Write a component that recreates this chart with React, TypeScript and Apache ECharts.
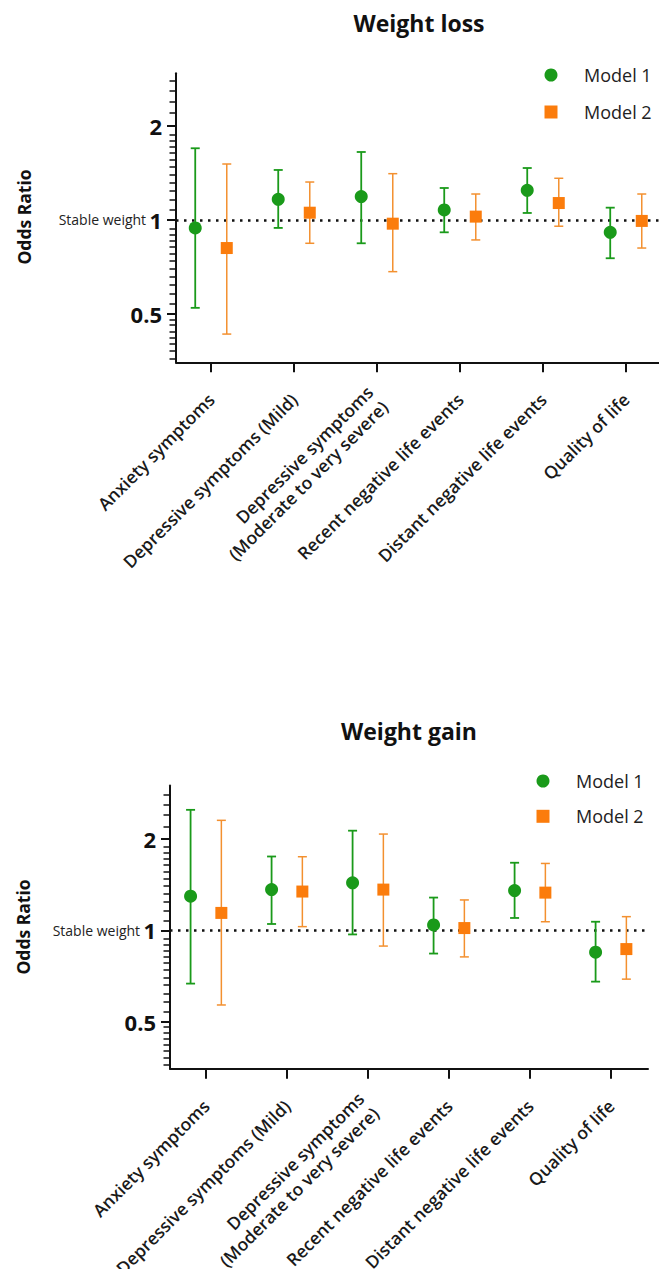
import React, { useEffect, useRef } from 'react';
import * as echarts from 'echarts';

const categories = [
  'Anxiety symptoms',
  'Depressive symptoms (Mild)',
  'Depressive symptoms\n(Moderate to very severe)',
  'Recent negative life events',
  'Distant negative life events',
  'Quality of life',
];

// Weight loss panel
const lossM1 = [0.943, 1.165, 1.188, 1.077, 1.245, 0.913];
const lossM1Low = [0.523, 0.943, 0.842, 0.913, 1.053, 0.754];
const lossM1High = [1.697, 1.446, 1.651, 1.266, 1.467, 1.095];
const lossM2 = [0.813, 1.055, 0.973, 1.025, 1.133, 0.993];
const lossM2Low = [0.431, 0.842, 0.683, 0.863, 0.955, 0.813];
const lossM2High = [1.511, 1.323, 1.407, 1.211, 1.36, 1.211];

// Weight gain panel
const gainM1 = [1.296, 1.363, 1.435, 1.042, 1.353, 0.848];
const gainM1Low = [0.668, 1.05, 0.97, 0.839, 1.099, 0.678];
const gainM1High = [2.496, 1.752, 2.131, 1.283, 1.671, 1.068];
const gainM2 = [1.142, 1.343, 1.363, 1.018, 1.332, 0.868];
const gainM2Low = [0.568, 1.029, 0.888, 0.818, 1.068, 0.691];
const gainM2High = [2.305, 1.749, 2.077, 1.26, 1.662, 1.11];

const yTickValues = [0.5, 1, 2];
const yTickLabels = ['0.5', '1', '2'];
const yMinorTicks = [
  0.36, 0.38, 0.4, 0.42, 0.44, 0.46, 0.48,
  0.54, 0.58, 0.62, 0.66, 0.7, 0.74, 0.78, 0.82, 0.86, 0.9, 0.94,
  1.08, 1.16, 1.24, 1.32, 1.4, 1.48, 1.56, 1.64, 1.72, 1.8, 1.88,
  2.2, 2.4, 2.6, 2.8,
];
const catIdx = categories.map((_, i) => i);

const FONT = 'Open Sans';
const GREEN = '#1a9a1a';
const ORANGE = '#fb7c0c';
const ORANGE_LINE = '#f3902f';
const AXIS = '#111';
const OFFSET = 0.19;
const Y_MIN = 0.35;

function errRender(color: string, width: number) {
  return (params: any, api: any) => {
    const x = api.value(0);
    const lo = api.coord([x, api.value(1)]);
    const hi = api.coord([x, api.value(2)]);
    const cap = 4.5;
    const style = { stroke: color, lineWidth: width, fill: 'none' };
    return {
      type: 'group',
      children: [
        { type: 'line', shape: { x1: lo[0], y1: lo[1], x2: hi[0], y2: hi[1] }, style },
        { type: 'line', shape: { x1: lo[0] - cap, y1: lo[1], x2: lo[0] + cap, y2: lo[1] }, style },
        { type: 'line', shape: { x1: hi[0] - cap, y1: hi[1], x2: hi[0] + cap, y2: hi[1] }, style },
      ],
    };
  };
}

function buildOption() {
  const panels = [
    {
      grid: { left: 176, top: 73.3, width: 483, height: 289 },
      yMax: 2.95,
      xMin: -0.4217, xMax: 5.3976,
      m1: lossM1, m1Lo: lossM1Low, m1Hi: lossM1High,
      m2: lossM2, m2Lo: lossM2Low, m2Hi: lossM2High,
      legend: { left: 544.5, top: 66, itemGap: 19 },
    },
    {
      grid: { left: 170, top: 785.6, width: 478, height: 283.2 },
      yMax: 3.0,
      xMin: -0.444, xMax: 5.457,
      m1: gainM1, m1Lo: gainM1Low, m1Hi: gainM1High,
      m2: gainM2, m2Lo: gainM2Low, m2Hi: gainM2High,
      legend: { left: 536.5, top: 772, itemGap: 17.3 },
    },
  ];

  const grid: any[] = [];
  const xAxis: any[] = [];
  const yAxis: any[] = [];
  const series: any[] = [];
  const legend: any[] = [];

  panels.forEach((p, gi) => {
    grid.push({ ...p.grid, containLabel: false, outerBoundsMode: 'none' });
    xAxis.push({
      type: 'value',
      gridIndex: gi,
      min: p.xMin,
      max: p.xMax,
      splitLine: { show: false },
      axisLine: { show: true, onZero: false, lineStyle: { color: AXIS, width: 2 } },
      axisTick: { show: true, customValues: catIdx, length: 10, lineStyle: { color: AXIS, width: 2 } },
      axisLabel: {
        customValues: catIdx,
        formatter: (v: number) => categories[Math.round(v)],
        rotate: 45,
        margin: 34,
        fontSize: 17.5,
        fontWeight: 600,
        fontFamily: FONT,
        color: '#1a1a1a',
        lineHeight: 21,
      },
    });
    yAxis.push({
      type: 'log',
      logBase: 10,
      gridIndex: gi,
      position: 'left',
      min: Y_MIN,
      max: p.yMax,
      splitLine: { show: false },
      axisLine: { show: true, onZero: false, lineStyle: { color: AXIS, width: 2 } },
      axisTick: { show: true, customValues: yTickValues, length: 9, lineStyle: { color: AXIS, width: 2 } },
      axisLabel: {
        customValues: yTickValues,
        margin: 14,
        formatter: (v: number) => {
          const idx = yTickValues.findIndex((t) => Math.abs(t - v) < 1e-6);
          const lab = idx >= 0 ? yTickLabels[idx] : String(v);
          return Math.abs(v - 1) < 1e-6 ? '{s|Stable weight} {b|' + lab + '}' : '{b|' + lab + '}';
        },
        rich: {
          s: { fontSize: 14, fontFamily: FONT, color: '#222', fontWeight: 400 },
          b: { fontSize: 22, fontFamily: FONT, color: '#111', fontWeight: 700 },
        },
      },
    });
    yAxis.push({
      type: 'log',
      logBase: 10,
      gridIndex: gi,
      position: 'left',
      offset: 0,
      min: Y_MIN,
      max: p.yMax,
      splitLine: { show: false },
      axisLine: { show: false, onZero: false },
      axisTick: { show: true, customValues: yMinorTicks, length: 6.5, lineStyle: { color: AXIS, width: 1.5 } },
      axisLabel: { show: false },
    });
    const yi = gi * 2;
    series.push({
      type: 'custom',
      name: 'm1ci' + gi,
      xAxisIndex: gi,
      yAxisIndex: yi,
      renderItem: errRender(GREEN, 1.8),
      encode: { x: 0, y: [1, 2] },
      data: catIdx.map((i) => [i - OFFSET, p.m1Lo[i], p.m1Hi[i]]),
      z: 2,
      silent: true,
    });
    series.push({
      type: 'custom',
      name: 'm2ci' + gi,
      xAxisIndex: gi,
      yAxisIndex: yi,
      renderItem: errRender(ORANGE_LINE, 1.5),
      encode: { x: 0, y: [1, 2] },
      data: catIdx.map((i) => [i + OFFSET, p.m2Lo[i], p.m2Hi[i]]),
      z: 2,
      silent: true,
    });
    series.push({
      type: 'scatter',
      name: 'Model 1',
      xAxisIndex: gi,
      yAxisIndex: yi,
      symbol: 'circle',
      symbolSize: 13,
      itemStyle: { color: GREEN, opacity: 1 },
      data: catIdx.map((i) => [i - OFFSET, p.m1[i]]),
      z: 4,
      markLine: {
        silent: true,
        z: 1,
        symbol: ['none', 'none'],
        label: { show: false },
        lineStyle: { color: '#111', type: [2.5, 5.5], width: 2.5 },
        data: [{ yAxis: 1 }],
      },
    });
    series.push({
      type: 'scatter',
      name: 'Model 2',
      xAxisIndex: gi,
      yAxisIndex: yi,
      symbol: 'rect',
      symbolSize: 12,
      itemStyle: { color: ORANGE, opacity: 1 },
      data: catIdx.map((i) => [i + OFFSET, p.m2[i]]),
      z: 4,
    });
    legend.push({
      left: p.legend.left,
      top: p.legend.top,
      orient: 'vertical',
      itemWidth: 13,
      itemHeight: 13,
      itemGap: p.legend.itemGap,
      selectedMode: false,
      padding: 0,
      data: [
        { name: 'Model 1', icon: 'circle' },
        { name: 'Model 2', icon: 'rect' },
      ],
      textStyle: { fontSize: 18, fontFamily: FONT, color: '#222', lineHeight: 18, padding: [0, 0, 0, 21.5] },
    });
  });

  return {
    animation: false,
    backgroundColor: '#fff',
    title: [
      { text: 'Weight loss', left: 419, top: 11, textAlign: 'center', padding: 0, textStyle: { fontSize: 23, fontWeight: 700, fontFamily: FONT, color: '#111' } },
      { text: 'Weight gain', left: 409, top: 719, textAlign: 'center', padding: 0, textStyle: { fontSize: 23, fontWeight: 700, fontFamily: FONT, color: '#111' } },
    ],
    legend,
    grid,
    xAxis,
    yAxis,
    series,
    graphic: [
      { type: 'text', x: 24, y: 217, rotation: Math.PI / 2, style: { text: 'Odds Ratio', fontSize: 17.5, fontWeight: 700, fontFamily: FONT, fill: '#111', align: 'center', verticalAlign: 'middle' } },
      { type: 'text', x: 23, y: 927, rotation: Math.PI / 2, style: { text: 'Odds Ratio', fontSize: 17.5, fontWeight: 700, fontFamily: FONT, fill: '#111', align: 'center', verticalAlign: 'middle' } },
    ],
  };
}

export default function App() {
  const ref = useRef<HTMLDivElement>(null);
  useEffect(() => {
    if (!ref.current) return;
    const chart = echarts.init(ref.current, null, { renderer: 'svg' });
    chart.setOption(buildOption() as any);
    return () => chart.dispose();
  }, []);
  return <div ref={ref} style={{ position: 'absolute', left: 0, top: 0, width: 659, height: 1269 }} />;
}
